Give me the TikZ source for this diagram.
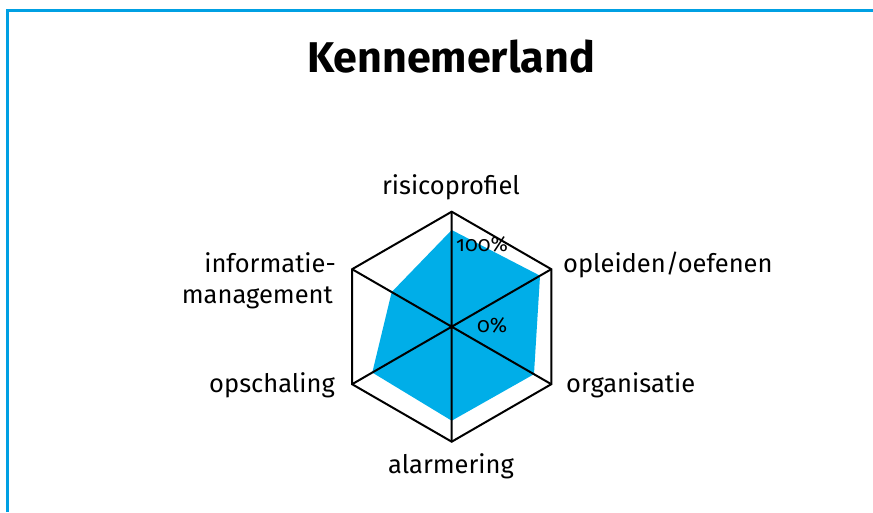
\documentclass[tikz,border=0pt]{standalone}
\usepackage{fontspec}
\setmainfont{Fira Sans}
\newfontfamily\oldnum[Numbers=OldStyle]{Fira Sans}
\definecolor{framecol}{RGB}{0,160,227}
\definecolor{fillcol}{RGB}{0,174,232}
\begin{document}
\begin{tikzpicture}[x=1pt,y=1pt,
  lbl/.style={inner sep=0pt, font=\fontsize{25.5}{30}\selectfont},
  grid/.style={line width=2pt, line join=miter}]
\useasboundingbox (0,0) rectangle (873,512);
% frame
\draw[framecol, line width=3.5pt] (7.5,0) -- (7.5,501.5) -- (873,501.5);
% title
\node[inner sep=0pt, anchor=base, font=\fontsize{43}{50}\bfseries] (title) at (451,439) {Kennemerland};
\begin{scope}[shift={(451.7,185.3)}]
  \coordinate (c) at (0,0);
  \foreach \a [count=\i] in {90,30,-30,-90,-150,150} {
    \coordinate (v\i) at (\a:115);
  }
  % data
  \fill[fillcol] (90:96.7) -- (30:102) -- (-30:95) -- (-90:94) -- (-150:91.7) -- (150:69.3) -- cycle;
  % grid
  \draw[grid] (v1) -- (v2) -- (v3) -- (v4) -- (v5) -- (v6) -- cycle;
  \draw[grid] (v1) -- (v4) (v2) -- (v5) (v3) -- (v6);
\end{scope}
\node[lbl, anchor=base] (n1) at (451,317) {risicoprofiel};
\node[lbl, anchor=base west] (n2) at (563,239) {opleiden/oefenen};
\node[lbl, anchor=base west] (n3) at (566,120) {organisatie};
\node[lbl, anchor=base] (n4) at (451,39) {alarmering};
\node[lbl, anchor=base east] (n5) at (335,120) {opschaling};
\node[lbl, anchor=base east] (n6) at (336,239) {informatie-};
\node[lbl, anchor=base east] (n7) at (333,208) {management};
\node[inner sep=0pt, anchor=base west, font=\oldnum\fontsize{21}{24}\selectfont] (p100) at (456,260) {100\%};
\node[inner sep=0pt, anchor=base west, font=\oldnum\fontsize{21}{24}\selectfont] (p0) at (477,179) {0\%};
\end{tikzpicture}
\end{document}
